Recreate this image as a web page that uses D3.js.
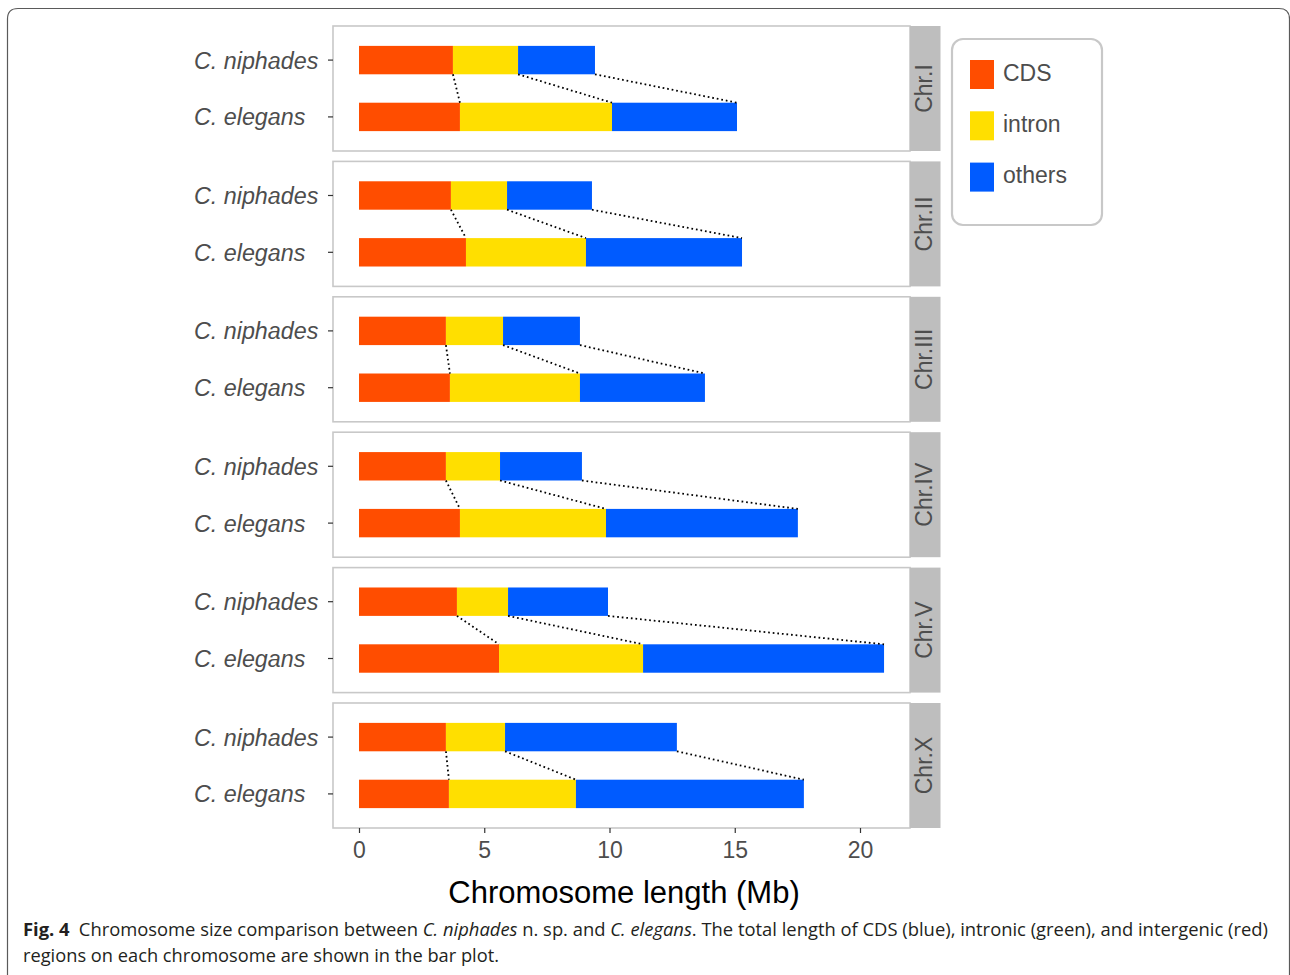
<!DOCTYPE html>
<html>
<head>
<meta charset="utf-8">
<script src="https://cdn.jsdelivr.net/npm/d3@7"></script>
<style>
  body { margin: 0; background: #fff; }
  svg { display: block; }
</style>
</head>
<body>
<svg id="chart" width="1290" height="975"></svg>
<script>
// chromosome panels, species rows, region categories
const chromosomes = ['Chr.I', 'Chr.II', 'Chr.III', 'Chr.IV', 'Chr.V', 'Chr.X'];
const species = ['C. niphades', 'C. elegans'];
const regions = ['CDS', 'intron', 'others'];
const xTicks = [0, 5, 10, 15, 20];

// lengths in Mb per chromosome: [CDS, intron, others]
const niphades = [
  [3.75, 2.60, 3.07],
  [3.67, 2.24, 3.39],
  [3.47, 2.28, 3.07],
  [3.47, 2.16, 3.27],
  [3.91, 2.04, 3.99],
  [3.47, 2.36, 6.86]
];
const elegans = [
  [4.03, 6.07, 4.99],
  [4.27, 4.79, 6.23],
  [3.63, 5.19, 4.99],
  [4.03, 5.83, 7.66],
  [5.59, 5.75, 9.62],
  [3.59, 5.07, 9.10]
];

const colors = { CDS: '#ff4d00', intron: '#ffdf00', others: '#005bff' };
const sans = 'Liberation Sans, Arial, sans-serif';

const svg = d3.select('#chart');

// outer figure frame
svg.append('path')
  .attr('d', 'M7.5,975 L7.5,19 Q7.5,8.5 18,8.5 L1279,8.5 Q1289.5,8.5 1289.5,19 L1289.5,975')
  .attr('fill', 'none').attr('stroke', '#5a5a5a').attr('stroke-width', 1.2);

const panelLeft = 333, panelRight = 910, panelH = 125, panelStep = 135.4, top0 = 26;
const x = d3.scaleLinear().domain([0, 20]).range([359, 860]);
const y = d3.scalePoint().domain(species).range([0, panelH]).padding(0.6);
const barH = y.step() * 0.5;

chromosomes.forEach((chr, i) => {
  const g = svg.append('g').attr('transform', `translate(0,${top0 + i * panelStep})`);

  g.append('rect')
    .attr('x', panelLeft).attr('y', 0)
    .attr('width', panelRight - panelLeft).attr('height', panelH)
    .attr('fill', '#fff').attr('stroke', '#c8c8c8').attr('stroke-width', 1.6);

  // strip
  g.append('rect')
    .attr('x', panelRight).attr('y', 0)
    .attr('width', 30.5).attr('height', panelH)
    .attr('fill', '#bebebe');
  g.append('text')
    .attr('transform', `translate(${panelRight + 14},${panelH / 2}) rotate(-90)`)
    .attr('text-anchor', 'middle').attr('dominant-baseline', 'central')
    .attr('font-family', sans)
    .attr('font-size', 23).attr('fill', '#4d4d4d')
    .text(chr);

  const rows = [niphades[i], elegans[i]];
  const stacks = rows.map(r => {
    let acc = 0;
    return r.map((v, k) => { const s = { key: regions[k], x0: acc, x1: acc + v }; acc += v; return s; });
  });

  species.forEach((sp, j) => {
    g.selectAll(null).data(stacks[j]).enter().append('rect')
      .attr('x', d => x(d.x0))
      .attr('y', y(sp) - barH / 2)
      .attr('width', d => x(d.x1) - x(d.x0))
      .attr('height', barH)
      .attr('fill', d => colors[d.key]);

    // y axis tick and label
    g.append('line')
      .attr('x1', panelLeft - 5).attr('x2', panelLeft)
      .attr('y1', y(sp)).attr('y2', y(sp))
      .attr('stroke', '#333').attr('stroke-width', 1.2);
    g.append('text')
      .attr('x', 194).attr('y', y(sp) + 0.5)
      .attr('dominant-baseline', 'central')
      .attr('font-family', sans)
      .attr('font-style', 'italic')
      .attr('font-size', 23.3).attr('fill', '#4d4d4d')
      .text(sp);
  });

  // dotted connectors between boundaries
  g.selectAll(null).data(d3.range(3)).enter().append('line')
    .attr('x1', k => x(stacks[0][k].x1))
    .attr('y1', y(species[0]) + barH / 2)
    .attr('x2', k => x(stacks[1][k].x1))
    .attr('y2', y(species[1]) - barH / 2)
    .attr('stroke', '#000').attr('stroke-width', 1.8)
    .attr('stroke-dasharray', '1.7,2.9');
});

// x axis
const axisY = top0 + 5 * panelStep + panelH;
const xAxis = svg.append('g')
  .attr('transform', `translate(0,${axisY})`)
  .call(d3.axisBottom(x).tickValues(xTicks).tickSize(5).tickPadding(9));
xAxis.select('.domain').remove();
xAxis.selectAll('.tick line').attr('stroke', '#333').attr('stroke-width', 1.2);
xAxis.selectAll('.tick text')
  .attr('font-family', sans)
  .attr('font-size', 23).attr('fill', '#4d4d4d');

svg.append('text')
  .attr('x', 624).attr('y', 903)
  .attr('text-anchor', 'middle')
  .attr('font-family', sans)
  .attr('font-size', 31).attr('fill', '#000')
  .text('Chromosome length (Mb)');

// legend
const lg = svg.append('g');
lg.append('rect')
  .attr('x', 952).attr('y', 39).attr('width', 150).attr('height', 186)
  .attr('rx', 11).attr('fill', '#fff')
  .attr('stroke', '#c8c8c8').attr('stroke-width', 2.2);
regions.forEach((r, k) => {
  lg.append('rect')
    .attr('x', 970).attr('y', 60 + k * 51.3)
    .attr('width', 24).attr('height', 29)
    .attr('fill', colors[r]);
  lg.append('text')
    .attr('x', 1003).attr('y', 72.5 + k * 51.3)
    .attr('dominant-baseline', 'central')
    .attr('font-family', sans)
    .attr('font-size', 23).attr('fill', '#4d4d4d')
    .text(r);
});

// caption
const cap = svg.append('g')
  .attr('font-family', 'Open Sans, Noto Sans, sans-serif')
  .attr('font-size', 18).attr('fill', '#231f20');
const l1 = cap.append('text').attr('x', 23).attr('y', 936)
  .attr('textLength', 1245).attr('lengthAdjust', 'spacingAndGlyphs');
l1.append('tspan').attr('font-weight', 'bold').text('Fig. 4');
l1.append('tspan').text('\u2002Chromosome size comparison between ');
l1.append('tspan').attr('font-style', 'italic').text('C. niphades');
l1.append('tspan').text(' n. sp. and ');
l1.append('tspan').attr('font-style', 'italic').text('C. elegans');
l1.append('tspan').text('. The total length of CDS (blue), intronic (green), and intergenic (red)');
cap.append('text').attr('x', 23).attr('y', 962)
  .attr('textLength', 476).attr('lengthAdjust', 'spacingAndGlyphs')
  .text('regions on each chromosome are shown in the bar plot.');
</script>
</body>
</html>
